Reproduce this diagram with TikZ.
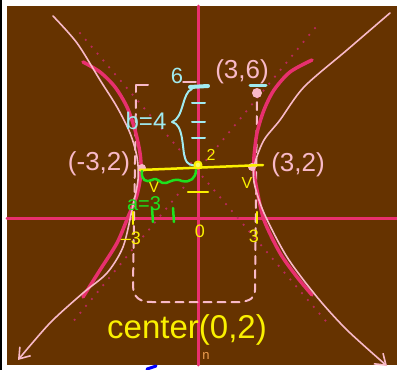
\documentclass[tikz,border=0pt]{standalone}
\usepackage{fontspec}
\setmainfont{Liberation Sans}
\usetikzlibrary{arrows.meta}
\definecolor{bgbrown}{RGB}{102,51,0}
\definecolor{hotpink}{RGB}{232,48,110}
\definecolor{lpink}{RGB}{248,185,200}
\definecolor{dpink}{RGB}{185,40,90}
\definecolor{cyanh}{RGB}{160,235,240}
\definecolor{yel}{RGB}{250,240,0}
\definecolor{grn}{RGB}{30,225,30}
\definecolor{orng}{RGB}{240,160,80}
\begin{document}
\begin{tikzpicture}[x=1pt,y=-1pt,line cap=round,line join=round,
  axisline/.style={hotpink,line width=3},
  asym/.style={dpink,line width=2.5,dash pattern=on 0pt off 9pt},
  branch/.style={hotpink,line width=3.5},
  thinarm/.style={lpink,line width=1.6},
  boxline/.style={lpink,line width=2,dash pattern=on 8pt off 6pt},
  lbl/.style={inner sep=0pt,font=\fontsize{26}{26}\selectfont},
  pinklbl/.style={lbl,text=lpink},
  ylbl/.style={inner sep=0pt,text=yel,font=\fontsize{18}{18}\selectfont},
  cmark/.style={cyanh,line width=2},
  ymark/.style={yel,line width=2.5},
  gmark/.style={grn,line width=2.5}]
\useasboundingbox (0,0) rectangle (397,370);
\fill[white] (0,0) rectangle (397,370);
\fill[bgbrown] (7,6) rectangle (397,365);
\draw[black,line width=1.5] (1,0) -- (1,370);
\draw[blue,line width=3] (147,369) -- (156,366);
% axes
\draw[axisline] (7,218) -- (397,218);
\draw[axisline] (198,6) -- (198,365);
% asymptotes
\draw[asym] (80,33) -- (330,326);
\draw[asym] (315,28) -- (72,323);
% dashed box
\draw[lpink,line width=2] (148,85) -- (136,85) -- (136,92);
\draw[boxline] (136,100) -- (133,285) .. controls (133,298) and (140,302) .. (152,302) -- (240,302) .. controls (250,301) and (255,298) .. (255,290) -- (257,100);
% hyperbola branches
\draw[branch] plot[smooth] coordinates {(312,60) (290,72) (274,90) (264,110) (257,133) (254,157) (254,172) (257,190) (264,220) (280,253) (297,277) (312,295)};
\draw[branch] plot[smooth] coordinates {(83,62) (100,72) (115,87) (127,107) (135,130) (140,153) (141,172) (137,195) (128,217) (117,243) (100,270) (83,297)};
% thin arms with arrows
\draw[thinarm,-{Straight Barb[length=10pt,width=14pt]}] plot[smooth] coordinates {(53,16) (77,43) (100,80) (117,107) (130,133) (137,157) (138,180) (132,210) (123,247) (107,273) (83,293) (50,323) (18,360)};
\draw[thinarm,-{Straight Barb[length=10pt,width=14pt]}] plot[smooth] coordinates {(390,13) (347,50) (304,87) (280,120) (264,140) (255,163) (254,182) (264,213) (287,257) (317,297) (347,330) (387,366)};
% points
\fill[lpink] (142,168) circle (4);
\fill[lpink] (252,167) circle (4);
\fill[lpink] (257,93) circle (5);
% cyan ticks and brace
\draw[cyanh,line width=4] (190,87) -- (208,86);
\draw[cmark] (192,103) -- (205,103);
\draw[cmark] (192,122) -- (205,122);
\draw[cmark] (192,138) -- (205,138);
\draw[cyanh,line width=3] (250,85) -- (266,85);
\draw[lpink,line width=1.5] (183,82) -- (196,82);
\draw[cmark] (192,89) .. controls (182,92) and (184,118) .. (172,122) .. controls (184,124) and (182,150) .. (185,158) .. controls (187,165) and (192,166) .. (197,165);
\node[inner sep=0pt,text=cyanh,font=\fontsize{22}{22}\selectfont] (six) at (177,76) {6};
\node[inner sep=0pt,text=cyanh,font=\fontsize{24}{24}\selectfont] (bval) at (146,121) {b=4};
% pink labels
\node[pinklbl] (p36) at (242,72) {(3,6)};
\node[pinklbl] (pm32) at (99,164) {(-3,2)};
\node[pinklbl] (p32) at (298,165) {(3,2)};
% yellow
\draw[ymark] (140,170) -- (263,165);
\draw[yel,line width=2,fill=yel!60!white] (198,165) circle (3.5);
\node[ylbl,font=\fontsize{16}{16}\selectfont] (two) at (211,155) {2};
\node[ylbl,font=\fontsize{16}{16}\selectfont] (vl) at (154,187) {V};
\node[ylbl,font=\fontsize{16}{16}\selectfont] (vr) at (247,183) {V};
\draw[ymark] (133,212) -- (133,224);
\draw[ymark] (257,212) -- (257,223);
\draw[ymark] (188,192) -- (208,192);
\node[ylbl] (m3) at (131,238) {–3};
\node[ylbl] (z0) at (200,231) {0};
\node[ylbl] (p3) at (254,236) {3};
\node[inner sep=0pt,text=yel,font=\fontsize{33}{33}\selectfont] (ctr) at (187,330) {center(0,2)};
\node[inner sep=0pt,text=orng,font=\fontsize{13}{13}\selectfont] (nn) at (206,356) {n};
% green
\draw[gmark] (152,208) -- (153,222);
\draw[gmark] (173,208) -- (174,222);
\draw[gmark] (142,171) .. controls (141,180) and (146,183) .. (152,180) .. controls (158,176) and (160,185) .. (166,183) .. controls (172,181) and (175,178) .. (182,181) .. controls (190,183) and (196,178) .. (196,170);
\node[inner sep=0pt,text=grn,font=\fontsize{20}{20}\selectfont] (aval) at (144,204) {a=3};
\end{tikzpicture}
\end{document}
